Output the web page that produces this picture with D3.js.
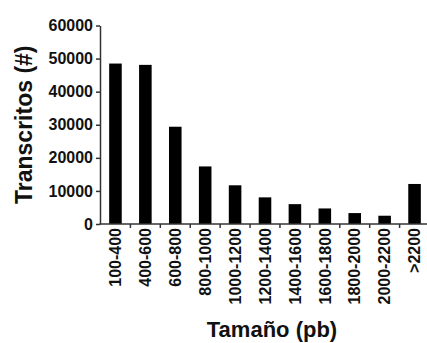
<!DOCTYPE html>
<html lang="es">
<head>
<meta charset="utf-8">
<script src="https://cdnjs.cloudflare.com/ajax/libs/d3/7.8.5/d3.min.js"></script>
<style>
  body { margin: 0; background: #fff; }
  svg { display: block; font-family: "Liberation Sans", Arial, sans-serif; }
  .axis text { font-size: 16px; font-weight: bold; fill: #111; }
  .axis path, .axis line { stroke: #333; stroke-width: 1.5; }
  .title { font-weight: bold; fill: #111; }
</style>
</head>
<body>
<div id="chart"></div>
<script>
// data
var sizes = ["100-400", "400-600", "600-800", "800-1000", "1000-1200", "1200-1400",
             "1400-1600", "1600-1800", "1800-2000", "2000-2200", ">2200"];
var transcripts = [48500, 48100, 29400, 17400, 11700, 8050, 6000, 4700, 3300, 2500, 12100];
var yTicks = [0, 10000, 20000, 30000, 40000, 50000, 60000];

var width = 427, height = 343;
var x0 = 100.5, x1 = 429.5, yBottom = 224, yTop = 25.5;

var svg = d3.select("#chart").append("svg")
    .attr("width", width)
    .attr("height", height);

var x = d3.scaleBand()
    .domain(sizes)
    .range([x0, x1])
    .paddingInner(0.58)
    .paddingOuter(0.29);

var y = d3.scaleLinear()
    .domain([0, 60000])
    .range([yBottom, yTop]);

// bars
svg.selectAll("rect.bar")
    .data(transcripts)
    .enter()
    .append("rect")
    .attr("class", "bar")
    .attr("x", function(d, i) { return x(sizes[i]); })
    .attr("y", function(d) { return y(d); })
    .attr("width", x.bandwidth())
    .attr("height", function(d) { return yBottom - y(d); })
    .attr("fill", "#000");

// y axis
var yAxis = d3.axisLeft(y)
    .tickValues(yTicks)
    .tickFormat(d3.format("d"))
    .tickSize(4)
    .tickPadding(3)
    .tickSizeOuter(0);

svg.append("g")
    .attr("class", "axis")
    .attr("transform", "translate(" + (x0 - 0.5) + ",0)")
    .call(yAxis);

// x axis: labels under bars, small ticks between bars
var xAxis = d3.axisBottom(x)
    .tickSize(0)
    .tickPadding(0)
    .tickSizeOuter(0);

var gx = svg.append("g")
    .attr("class", "axis")
    .attr("transform", "translate(0," + yBottom + ")")
    .call(xAxis);

gx.select(".domain").attr("d", "M" + (x0 - 1) + ",0H" + width);

gx.selectAll(".tick text")
    .attr("transform", "rotate(-90)")
    .attr("text-anchor", "end")
    .attr("x", -4)
    .attr("y", 0)
    .attr("dy", "0.36em");

var step = x.step();
gx.selectAll("line.sep")
    .data(sizes)
    .enter()
    .append("line")
    .attr("class", "sep")
    .attr("x1", function(d) { return x(d) + x.bandwidth() / 2 + step / 2; })
    .attr("x2", function(d) { return x(d) + x.bandwidth() / 2 + step / 2; })
    .attr("y1", 0)
    .attr("y2", 4);

// axis titles
svg.append("text")
    .attr("class", "title")
    .attr("transform", "translate(32," + ((yTop + yBottom) / 2) + ") rotate(-90)")
    .attr("text-anchor", "middle")
    .style("font-size", "23px")
    .text("Transcritos (#)");

svg.append("text")
    .attr("class", "title")
    .attr("x", 272)
    .attr("y", 337)
    .attr("text-anchor", "middle")
    .style("font-size", "22px")
    .text("Tamaño (pb)");
</script>
</body>
</html>
